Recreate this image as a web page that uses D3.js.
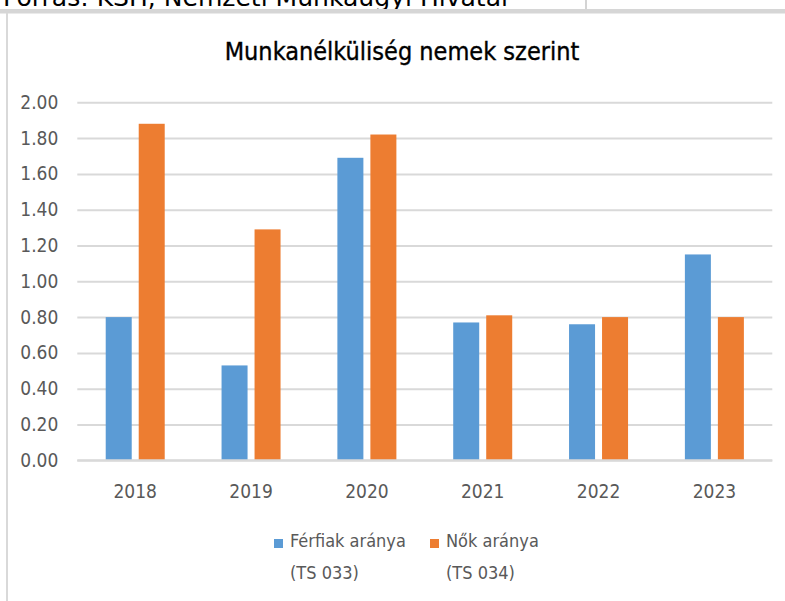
<!DOCTYPE html>
<html>
<head>
<meta charset="utf-8">
<script src="https://cdn.jsdelivr.net/npm/d3@7"></script>
<style>
  body { margin: 0; background: #fff; }
  svg { display: block; font-family: "DejaVu Sans Condensed", "Open Sans", sans-serif; }
</style>
</head>
<body>
<svg id="chart" width="785" height="601"></svg>
<script>
// data
const years = ["2018", "2019", "2020", "2021", "2022", "2023"];
const ferfiak = [0.80, 0.53, 1.69, 0.77, 0.76, 1.15];
const nok = [1.88, 1.29, 1.82, 0.81, 0.80, 0.80];
const seriesNames = ["Férfiak aránya", "Nők aránya"];
const seriesCodes = ["(TS 033)", "(TS 034)"];
const colors = ["#5B9BD5", "#ED7D31"];
const yTicks = [0, 0.2, 0.4, 0.6, 0.8, 1.0, 1.2, 1.4, 1.6, 1.8, 2.0];

const svg = d3.select("#chart");

// source line of the page above, cut off by the crop like in the screenshot
svg.append("text")
    .attr("x", 3).attr("y", 6)
    .attr("font-size", 25)
    .attr("textLength", 505)
    .attr("lengthAdjust", "spacingAndGlyphs")
    .attr("fill", "#000")
    .text("Forrás: KSH, Nemzeti Munkaügyi Hivatal");
svg.append("line")
    .attr("x1", 586).attr("x2", 586).attr("y1", 0).attr("y2", 9)
    .attr("stroke", "#d4d4d4").attr("stroke-width", 2);
svg.append("rect")
    .attr("x", 0).attr("y", 9).attr("width", 785).attr("height", 4.5)
    .attr("fill", "#d6d6d6");
svg.append("line")
    .attr("x1", 7).attr("x2", 7).attr("y1", 13).attr("y2", 601)
    .attr("stroke", "#d9d9d9").attr("stroke-width", 2);

// title
svg.append("text")
    .attr("x", 402).attr("y", 60)
    .attr("text-anchor", "middle")
    .attr("font-size", 25)
    .attr("fill", "#000")
    .attr("stroke", "#000").attr("stroke-width", 0.35)
    .text("Munkanélküliség nemek szerint");

const plot = { left: 77.3, right: 772.3, top: 102.3, bottom: 460.3 };

const x = d3.scaleBand()
    .domain(years)
    .range([plot.left, plot.right]);

// two bars 26px wide with a 7px gap, centred in each band
const half = 29.5;
const x1 = d3.scaleBand()
    .domain([0, 1])
    .range([x.bandwidth() / 2 - half, x.bandwidth() / 2 + half])
    .paddingInner(0.212);

const y = d3.scaleLinear()
    .domain([0, 2])
    .range([plot.bottom, plot.top]);

// gridlines + y labels
const yAxis = svg.append("g")
    .attr("transform", `translate(${plot.left},0)`)
    .call(d3.axisLeft(y).tickValues(yTicks)
        .tickSize(-(plot.right - plot.left))
        .tickPadding(19)
        .tickFormat(d3.format(".2f")));
yAxis.attr("font-family", null);
yAxis.select(".domain").remove();
yAxis.selectAll(".tick line").attr("stroke", "#d9d9d9").attr("stroke-width", 2);
yAxis.selectAll(".tick text")
    .attr("fill", "#595959")
    .attr("font-size", 19);

// bars
const rows = years.map((yr, i) => ({ year: yr, values: [ferfiak[i], nok[i]] }));
const groups = svg.append("g").selectAll("g")
    .data(rows)
    .join("g")
    .attr("transform", d => `translate(${x(d.year)},0)`);

groups.selectAll("rect")
    .data(d => d.values.map((v, k) => ({ k, v })))
    .join("rect")
    .attr("x", d => x1(d.k))
    .attr("width", x1.bandwidth())
    .attr("y", d => y(d.v))
    .attr("height", d => y(0) - y(d.v))
    .attr("fill", d => colors[d.k]);

// baseline over the bar bottoms
svg.append("line")
    .attr("x1", plot.left).attr("x2", plot.right)
    .attr("y1", y(0)).attr("y2", y(0))
    .attr("stroke", "#d9d9d9").attr("stroke-width", 2);

const xAxis = svg.append("g")
    .attr("transform", `translate(0,${plot.bottom})`)
    .call(d3.axisBottom(x).tickSize(0).tickPadding(24));
xAxis.attr("font-family", null);
xAxis.select(".domain").remove();
xAxis.selectAll(".tick text")
    .attr("fill", "#595959")
    .attr("font-size", 19);

// legend
const legendX = [274, 430];
const legend = svg.append("g").selectAll("g")
    .data(seriesNames)
    .join("g")
    .attr("transform", (d, i) => `translate(${legendX[i]},539)`);
legend.append("rect")
    .attr("width", 9).attr("height", 9)
    .attr("fill", (d, i) => colors[i]);
legend.append("text")
    .attr("x", 16).attr("y", 8)
    .attr("font-size", 18)
    .attr("fill", "#595959")
    .text(d => d);
legend.append("text")
    .attr("x", 16).attr("y", 40)
    .attr("font-size", 18)
    .attr("fill", "#595959")
    .text((d, i) => seriesCodes[i]);
</script>
</body>
</html>
